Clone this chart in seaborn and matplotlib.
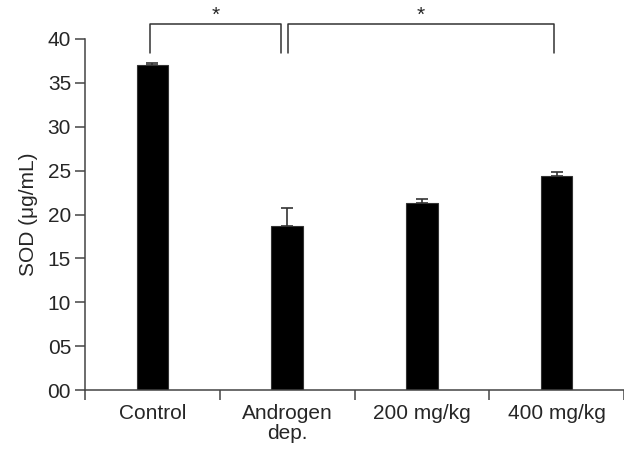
import matplotlib
matplotlib.use("Agg")
import matplotlib.pyplot as plt
import numpy as np
import pandas as pd
import seaborn as sns

groups = ["Control", "Androgen\ndep.", "200 mg/kg", "400 mg/kg"]
sod = [37.0, 18.7, 21.3, 24.4]
sem = [0.3, 2.0, 0.5, 0.4]
y_ticks = [0, 5, 10, 15, 20, 25, 30, 35, 40]
y_labels = ["00", "05", "10", "15", "20", "25", "30", "35", "40"]

sns.set_style("ticks")
plt.rcParams["font.family"] = ["Liberation Sans", "DejaVu Sans"]

data = pd.DataFrame({"group": groups, "sod": sod})

fig = plt.figure(figsize=(6.24, 4.5), dpi=100)
ax = fig.add_axes([85 / 624, 60 / 450, 1 - 85 / 624, 351 / 450])

sns.barplot(data=data, x="group", y="sod", order=groups, color="black",
            width=0.235, edgecolor="#333333", linewidth=0.8, ax=ax)
ax.errorbar(np.arange(len(groups)), sod, yerr=[np.zeros(len(sem)), sem],
            fmt="none", ecolor="#333333", elinewidth=1.2, capsize=4.5,
            capthick=1.2)

ax.set_xlim(-0.5, 3.47)
ax.set_ylim(0, 40)
ax.set_yticks(y_ticks)
ax.set_yticklabels(y_labels)
ax.set_xlabel("")
ax.set_ylabel("SOD (μg/mL)", fontsize=15, labelpad=7)

ax.set_xticks(np.arange(len(groups)))
ax.set_xticklabels(groups, fontsize=15, linespacing=1.05)
ax.set_xticks(np.arange(len(groups) + 1) - 0.5, minor=True)
ax.tick_params(axis="x", which="major", length=0, pad=10)
ax.tick_params(axis="x", which="minor", length=7, width=1.1, color="#444444",
               direction="out")
ax.tick_params(axis="y", length=7, width=1.1, color="#444444", labelsize=15,
               pad=3)

for side in ["top", "right"]:
    ax.spines[side].set_visible(False)
for side in ["left", "bottom"]:
    ax.spines[side].set_color("#444444")
    ax.spines[side].set_linewidth(1.1)

# significance brackets
def bracket(x0, x1, top, leg):
    ax.plot([x0, x0, x1, x1], [leg, top, top, leg], color="#333333", lw=1.1,
            clip_on=False)
    ax.text((x0 + x1) / 2, top - 0.1, "*", ha="center", va="bottom",
            fontsize=15, clip_on=False)

bracket(-0.015, 0.955, 41.7, 38.4)
bracket(1.005, 2.98, 41.7, 38.4)

fig.savefig("out.png", dpi=100)
